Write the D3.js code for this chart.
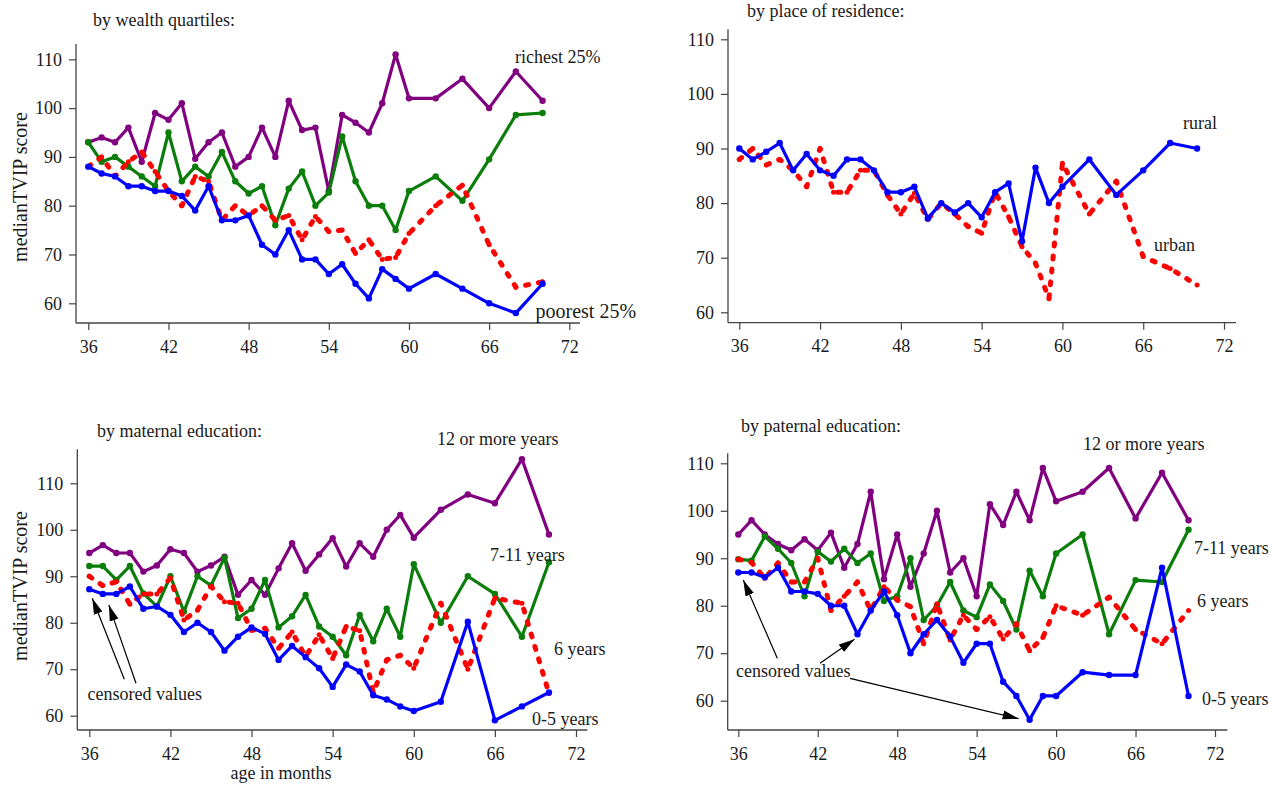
<!DOCTYPE html>
<html>
<head>
<meta charset="utf-8">
<script src="https://cdn.jsdelivr.net/npm/d3@7"></script>
<style>
  html, body { margin: 0; padding: 0; background: #fff; }
  svg { display: block; font-family: "Liberation Serif", "Times New Roman", serif; }
</style>
</head>
<body>
<svg id="chart" width="1271" height="786"></svg>
<script>
// Age (months) at which median TVIP scores were computed
const months = [36, 37, 38, 39, 40, 41, 42, 43, 44, 45, 46, 47, 48, 49, 50, 51, 52, 53, 54, 55,
                56, 57, 58, 59, 60, 62, 64, 66, 68, 70];

const xTicks = [36, 42, 48, 54, 60, 66, 72];
const yTicks = [60, 70, 80, 90, 100, 110];

// Wealth quartiles
const wealthRichest = [93, 94, 93, 96, 89, 99, 97.6, 101, 89.6, 93, 95, 88, 90, 96, 90, 101.5, 95.5, 96, 83, 98.6,
                       97, 95, 101, 111, 102, 102, 106, 100, 107.5, 101.5];
const wealthThird   = [93, 89, 90, 88, 86, 84, 95, 85, 88, 86, 91, 85, 82.5, 84, 76, 83.5, 87, 80, 82.7, 94.2,
                       85, 80, 80, 75, 83, 86, 81, 89.5, 98.6, 99];
const wealthSecond  = [88, 90, 86, 89, 91, 87, 83, 80, 86, 85, 77, 80, 78, 80, 77, 78, 73, 77.8, 74.7, 75,
                       70.2, 73, 69, 69.4, 74.3, 80, 84.2, 72, 63.3, 64.4];
const wealthPoorest = [88, 86.6, 86, 84, 84, 83, 83, 82, 79, 84, 77, 77, 78, 72, 70, 75, 69, 69, 66, 68,
                       64, 61, 67, 65, 63, 66, 63, 60, 58, 64];

// Place of residence
const residenceRural = [90, 88, 89.4, 91, 86, 89, 86, 85, 88, 88, 86, 82, 82, 83, 77.2, 80, 78.3, 80, 77.4, 82,
                        83.6, 73, 86.5, 80, 83, 88, 81.5, 86, 91, 90];
const residenceUrban = [88, 90, 87, 88, 86, 83, 90, 82, 82, 86, 86, 81.5, 78, 81.8, 77, 80, 78, 75.7, 74.5, 82,
                        77.5, 72, 69, 62.5, 87.3, 78, 84, 70.2, 68, 65];

// Maternal education
const maternal12 = [95, 96.7, 95, 95, 91, 92.3, 95.8, 95, 91, 92.3, 94.2, 86, 89.2, 86, 91.7, 97.1, 91.2, 94.7, 98.2, 92.1,
                    97.1, 94.2, 100, 103.2, 98.3, 104.3, 107.6, 105.7, 115.2, 99];
const maternal711 = [92.2, 92.2, 89.2, 92.2, 86.3, 83.5, 90, 82.4, 90, 88, 94, 81, 83, 89.2, 79, 81.4, 86, 79.2, 77, 73,
                     81.7, 76, 83, 77, 92.6, 80, 90, 86.2, 77, 93];
const maternal6 = [90, 88, 88.8, 84, 86.2, 86.2, 89.6, 80.6, 82.7, 87.8, 84.5, 84.2, 78.4, 78.8, 74.5, 78, 72.7, 77.4, 72.3, 79.2,
                   78.3, 65, 72, 73, 70.2, 84.2, 70, 85.3, 84.2, 64.8];
const maternal05 = [87.2, 86.2, 86.2, 87.8, 83, 83.5, 81.7, 78, 80, 78, 74, 77, 79, 77.6, 72, 75, 72.6, 70.2, 66.2, 71,
                    69.5, 64.4, 63.5, 62, 61, 63, 80.2, 59, 62, 65];

// Paternal education
const paternal12 = [95, 98, 95, 93, 91.7, 94, 91.7, 95.4, 88, 93, 104, 85.6, 95, 84, 91, 100, 87, 90, 82, 101.4,
                    97, 104, 98, 109, 102, 104, 109, 98.4, 108, 98];
const paternal711 = [89.8, 89.5, 94.6, 92, 89, 82, 91.4, 89.3, 92, 89, 91, 81, 82, 90, 77, 80, 85, 79, 77.6, 84.5,
                     81, 75, 87.4, 82, 91, 95, 74, 85.4, 85, 96];
const paternal6 = [89.8, 89.1, 85.8, 89, 85, 85, 90, 79, 82, 85, 79, 84, 81.2, 79.8, 72, 80.4, 72.8, 78, 75, 77.7,
                   73, 76.2, 70.5, 73.3, 80, 78, 81.8, 75, 72, 79];
const paternal05 = [87, 87, 86, 88, 83, 83, 82.5, 80, 80, 74, 79, 83, 78, 70, 74, 77, 73.5, 68, 72, 72,
                    64, 61, 56, 61, 61, 66, 65.4, 65.4, 88, 61];

const COLORS = { purple: "#800080", green: "#0a7d0a", blue: "#0000ff", red: "#ff0000" };

const svg = d3.select("#chart");

// arrowhead used by the "censored values" annotations
svg.append("defs").append("marker")
  .attr("id", "arrowhead")
  .attr("markerUnits", "userSpaceOnUse")
  .attr("viewBox", "0 -5 16 10")
  .attr("refX", 16).attr("refY", 0)
  .attr("markerWidth", 16).attr("markerHeight", 10)
  .attr("orient", "auto")
  .append("path")
  .attr("d", "M0,-4.5L16,0L0,4.5Z")
  .attr("fill", "#000");

const panels = [
  {
    title: "by wealth quartiles:", titlePos: [93, 26],
    xr: [88.3, 569.3], yr: [303.3, 59.3],
    axisX: 76, axisTop: 44, axisY: 323, axisRight: 580,
    yLabel: [20, 187],
    series: [
      { values: wealthRichest, color: COLORS.purple },
      { values: wealthThird, color: COLORS.green },
      { values: wealthSecond, color: COLORS.red, dashed: true },
      { values: wealthPoorest, color: COLORS.blue }
    ],
    labels: [
      { text: "richest 25%", pos: [515, 63.3], size: 18 },
      { text: "poorest 25%", pos: [535.5, 317.5], size: 20 }
    ]
  },
  {
    title: "by place of residence:", titlePos: [747, 17],
    xr: [739.3, 1224], yr: [312.3, 39.3],
    axisX: 728, axisTop: 29.3, axisY: 322.7, axisRight: 1236,
    series: [
      { values: residenceUrban, color: COLORS.red, dashed: true },
      { values: residenceRural, color: COLORS.blue }
    ],
    labels: [
      { text: "rural", pos: [1183, 129] },
      { text: "urban", pos: [1154, 251] }
    ]
  },
  {
    title: "by maternal education:", titlePos: [97, 436.5],
    xr: [89.3, 576], yr: [715.7, 483.3],
    axisX: 77.3, axisTop: 449.3, axisY: 730, axisRight: 587.3,
    yLabel: [20, 586], xLabel: [281, 779],
    series: [
      { values: maternal12, color: COLORS.purple },
      { values: maternal711, color: COLORS.green },
      { values: maternal6, color: COLORS.red, dashed: true },
      { values: maternal05, color: COLORS.blue }
    ],
    labels: [
      { text: "12 or more years", pos: [437, 445] },
      { text: "7-11 years", pos: [490, 560.5] },
      { text: "6 years", pos: [554, 655] },
      { text: "0-5 years", pos: [532, 725] }
    ],
    censored: {
      textPos: [87.5, 700],
      arrows: [
        { from: [124.3, 679.3], series: maternal05, month: 36, offset: [3, 9] },
        { from: [136, 683.3], series: maternal05, month: 37, offset: [6, 11] }
      ]
    }
  },
  {
    title: "by paternal education:", titlePos: [741, 431.5],
    xr: [738.3, 1215], yr: [700.7, 463.3],
    axisX: 727.7, axisTop: 453.3, axisY: 730, axisRight: 1227.3,
    series: [
      { values: paternal12, color: COLORS.purple },
      { values: paternal711, color: COLORS.green },
      { values: paternal6, color: COLORS.red, dashed: true },
      { values: paternal05, color: COLORS.blue }
    ],
    labels: [
      { text: "12 or more years", pos: [1083, 450] },
      { text: "7-11 years", pos: [1194, 553.5] },
      { text: "6 years", pos: [1197, 606.5] },
      { text: "0-5 years", pos: [1202, 705] }
    ],
    censored: {
      textPos: [736, 677.3],
      arrows: [
        { from: [777.3, 658.3], series: paternal05, month: 36, offset: [5, 7.5] },
        { from: [820, 663.3], series: paternal05, month: 45, offset: [-3, 5] },
        { from: [850, 678.3], series: paternal05, month: 58, offset: [-11, -1] }
      ]
    }
  }
];

panels.forEach(p => {
  const x = d3.scaleLinear().domain([36, 72]).range(p.xr);
  const y = d3.scaleLinear().domain([60, 110]).range(p.yr);
  const g = svg.append("g");

  // title
  g.append("text")
    .attr("x", p.titlePos[0]).attr("y", p.titlePos[1])
    .attr("font-size", 18).attr("fill", "#1a1a1a")
    .text(p.title);

  // axis lines
  g.append("line")
    .attr("x1", p.axisX).attr("x2", p.axisX)
    .attr("y1", p.axisTop).attr("y2", p.axisY)
    .attr("stroke", "#444").attr("stroke-width", 1.3);
  g.append("line")
    .attr("x1", p.axisX).attr("x2", p.axisRight)
    .attr("y1", p.axisY).attr("y2", p.axisY)
    .attr("stroke", "#444").attr("stroke-width", 1.3);

  // y axis ticks
  const yAxis = g.append("g")
    .attr("transform", `translate(${p.axisX},0)`)
    .call(d3.axisLeft(y).tickValues(yTicks).tickSize(7).tickPadding(7).tickFormat(d3.format("d")));
  yAxis.select(".domain").remove();
  yAxis.selectAll(".tick line").attr("stroke", "#444").attr("stroke-width", 1.2);
  yAxis.selectAll(".tick text")
    .attr("font-size", 18).attr("fill", "#1a1a1a")
    .attr("font-family", "Liberation Serif, Times New Roman, serif");

  // x axis ticks
  const xAxis = g.append("g")
    .attr("transform", `translate(0,${p.axisY})`)
    .call(d3.axisBottom(x).tickValues(xTicks).tickSize(7).tickPadding(10).tickFormat(d3.format("d")));
  xAxis.select(".domain").remove();
  xAxis.selectAll(".tick line").attr("stroke", "#444").attr("stroke-width", 1.2);
  xAxis.selectAll(".tick text")
    .attr("font-size", 18).attr("fill", "#1a1a1a")
    .attr("font-family", "Liberation Serif, Times New Roman, serif");

  // axis titles
  if (p.yLabel) {
    g.append("text")
      .attr("transform", `translate(${p.yLabel[0] + 7},${p.yLabel[1]}) rotate(-90)`)
      .attr("text-anchor", "middle")
      .attr("font-size", 20).attr("fill", "#1a1a1a")
      .text("medianTVIP score");
  }
  if (p.xLabel) {
    g.append("text")
      .attr("x", p.xLabel[0]).attr("y", p.xLabel[1])
      .attr("text-anchor", "middle")
      .attr("font-size", 18).attr("fill", "#1a1a1a")
      .text("age in months");
  }

  // series lines with point markers
  const line = d3.line().x((d, i) => x(months[i])).y(d => y(d));
  p.series.forEach(s => {
    const sg = g.append("g");
    sg.append("path")
      .attr("d", line(s.values))
      .attr("fill", "none")
      .attr("stroke", s.color)
      .attr("stroke-width", s.dashed ? 5 : 3.2)
      .attr("stroke-linecap", "round")
      .attr("stroke-linejoin", "round")
      .attr("stroke-dasharray", s.dashed ? "3,10" : null);
    sg.selectAll("circle")
      .data(s.values)
      .join("circle")
      .attr("cx", (d, i) => x(months[i]))
      .attr("cy", d => y(d))
      .attr("r", s.dashed ? 2.5 : 3.2)
      .attr("fill", s.color);
  });

  // series labels
  p.labels.forEach(l => {
    g.append("text")
      .attr("x", l.pos[0]).attr("y", l.pos[1])
      .attr("font-size", l.size || 18).attr("fill", "#1a1a1a")
      .text(l.text);
  });

  // censored-value annotations
  if (p.censored) {
    g.append("text")
      .attr("x", p.censored.textPos[0]).attr("y", p.censored.textPos[1])
      .attr("font-size", 18).attr("fill", "#1a1a1a")
      .text("censored values");
    p.censored.arrows.forEach(a => {
      const i = months.indexOf(a.month);
      const tx = x(a.month) + a.offset[0];
      const ty = y(a.series[i]) + a.offset[1];
      g.append("line")
        .attr("x1", a.from[0]).attr("y1", a.from[1])
        .attr("x2", tx).attr("y2", ty)
        .attr("stroke", "#000").attr("stroke-width", 1.2)
        .attr("marker-end", "url(#arrowhead)");
    });
  }
});
</script>
</body>
</html>
